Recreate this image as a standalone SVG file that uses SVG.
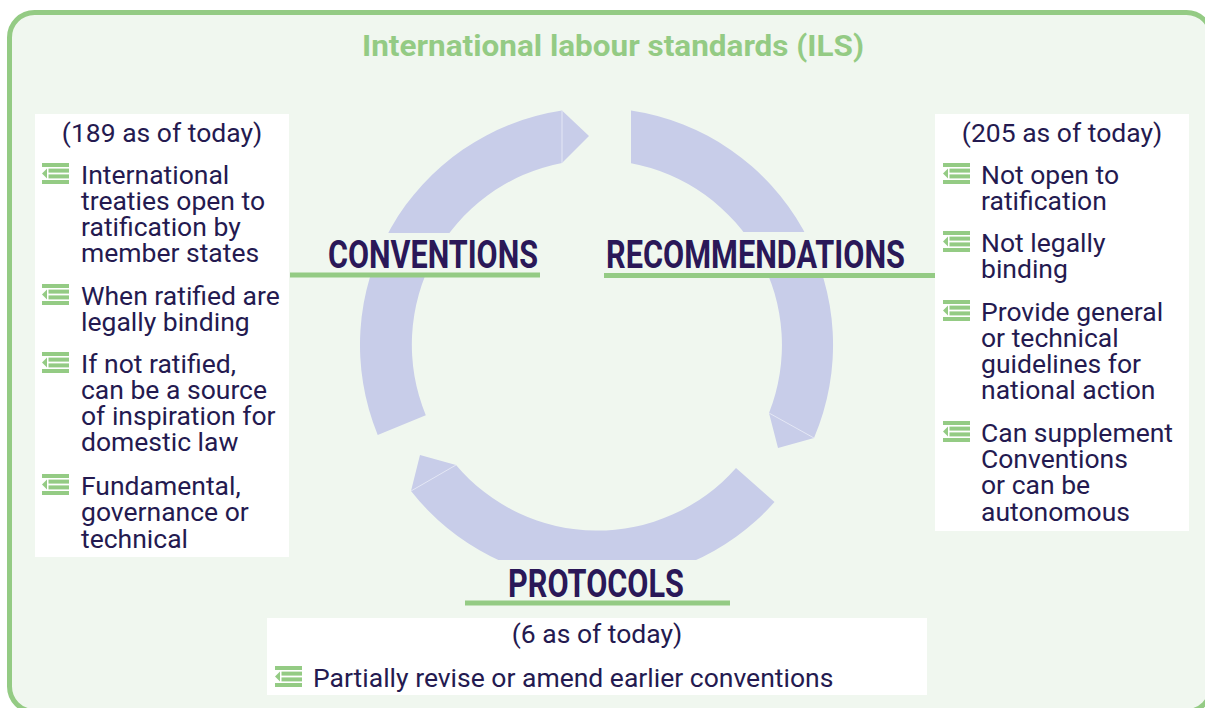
<svg xmlns="http://www.w3.org/2000/svg" width="1205" height="708" viewBox="0 0 1205 708">
<defs>
<style>
.body{font-family:Roboto,"Liberation Sans",sans-serif;font-size:26.5px;fill:#241a50}
.lbl{font-family:Roboto,"Liberation Sans",sans-serif;font-size:38px;font-weight:700;fill:#2a1858}
.ttl{font-family:Roboto,"Liberation Sans",sans-serif;font-size:30px;font-weight:700;fill:#94cb84}
.ring{fill:#c8cde9}
.sep{stroke:#e4e7f5;stroke-width:1;fill:none}
.bg{fill:#f0f7ef}
.ul{fill:#94cb84}
.box{fill:#ffffff}
</style>
<g id="ico">
<rect x="0" y="0" width="27" height="4" fill="#94cb84"/>
<rect x="6.5" y="5.6" width="20.5" height="4" fill="#94cb84"/>
<rect x="6.5" y="11.4" width="20.5" height="4" fill="#94cb84"/>
<rect x="0" y="17" width="27" height="4" fill="#94cb84"/>
<polygon points="0,10.5 5,5.6 5,15.4" fill="#94cb84"/>
</g>
</defs>
<rect x="9.5" y="12.5" width="1202" height="699" rx="25" fill="#f0f7ef" stroke="#94cb84" stroke-width="5"/>
<text class="ttl" x="613" y="56" text-anchor="middle" textLength="502" lengthAdjust="spacingAndGlyphs">International labour standards (ILS)</text>

<g id="cycle">
<path class="ring" d="M377.7,434.9 A237,237 0 0 1 562,110.6 L589,136 L562,163 A185,185 0 0 0 425.8,415.2 Z"/>
<line class="sep" x1="562" y1="110.6" x2="562" y2="163"/>
<path class="ring" d="M631,110.5 A237,237 0 0 1 814,438 L778,448 L769,413 A185,185 0 0 0 631,163.2 Z"/>
<line class="sep" x1="769" y1="413" x2="814" y2="438"/>
<path class="ring" d="M774.5,502.1 A237,237 0 0 1 411,491 L420,455 L456,465 A185,185 0 0 0 736,468 Z"/>
<line class="sep" x1="411" y1="491" x2="456" y2="465"/>
</g>

<g id="conventions">
<rect class="bg" x="290" y="233" width="250" height="40"/>
<rect class="ul" x="290" y="272.5" width="250" height="5"/>
<text class="lbl" x="328" y="268" textLength="210" lengthAdjust="spacingAndGlyphs">CONVENTIONS</text>
<rect class="box" x="35" y="114" width="254" height="443"/>
<text class="body" x="162" y="142" text-anchor="middle">(189 as of today)</text>
<use href="#ico" x="42" y="163"/>
<text class="body" x="81" y="184">International</text>
<text class="body" x="81" y="210">treaties open to</text>
<text class="body" x="81" y="236">ratification by</text>
<text class="body" x="81" y="262">member states</text>
<use href="#ico" x="42" y="284"/>
<text class="body" x="81" y="305">When ratified are</text>
<text class="body" x="81" y="331">legally binding</text>
<use href="#ico" x="42" y="352"/>
<text class="body" x="81" y="373">If not ratified,</text>
<text class="body" x="81" y="399">can be a source</text>
<text class="body" x="81" y="425">of inspiration for</text>
<text class="body" x="81" y="451">domestic law</text>
<use href="#ico" x="42" y="474"/>
<text class="body" x="81" y="495">Fundamental,</text>
<text class="body" x="81" y="521">governance or</text>
<text class="body" x="81" y="548">technical</text>
</g>

<g id="recommendations">
<rect class="bg" x="604" y="232" width="331" height="41"/>
<rect class="ul" x="604" y="273" width="331" height="5"/>
<text class="lbl" x="606" y="268" textLength="299" lengthAdjust="spacingAndGlyphs">RECOMMENDATIONS</text>
<rect class="box" x="935" y="114" width="254" height="417"/>
<text class="body" x="1062" y="142" text-anchor="middle">(205 as of today)</text>
<use href="#ico" x="943" y="163"/>
<text class="body" x="981" y="184">Not open to</text>
<text class="body" x="981" y="210">ratification</text>
<use href="#ico" x="943" y="231"/>
<text class="body" x="981" y="252">Not legally</text>
<text class="body" x="981" y="278">binding</text>
<use href="#ico" x="943" y="300"/>
<text class="body" x="981" y="321">Provide general</text>
<text class="body" x="981" y="347">or technical</text>
<text class="body" x="981" y="373">guidelines for</text>
<text class="body" x="981" y="399">national action</text>
<use href="#ico" x="943" y="421"/>
<text class="body" x="981" y="442">Can supplement</text>
<text class="body" x="981" y="468">Conventions</text>
<text class="body" x="981" y="494">or can be</text>
<text class="body" x="981" y="521">autonomous</text>
</g>

<g id="protocols">
<rect class="bg" x="465" y="560" width="265" height="41"/>
<rect class="ul" x="465" y="600.5" width="265" height="5"/>
<text class="lbl" x="508" y="597" textLength="176" lengthAdjust="spacingAndGlyphs">PROTOCOLS</text>
<rect class="box" x="267" y="618" width="660" height="77"/>
<text class="body" x="597" y="643" text-anchor="middle">(6 as of today)</text>
<use href="#ico" x="275" y="666"/>
<text class="body" x="313" y="687">Partially revise or amend earlier conventions</text>
</g>
</svg>
